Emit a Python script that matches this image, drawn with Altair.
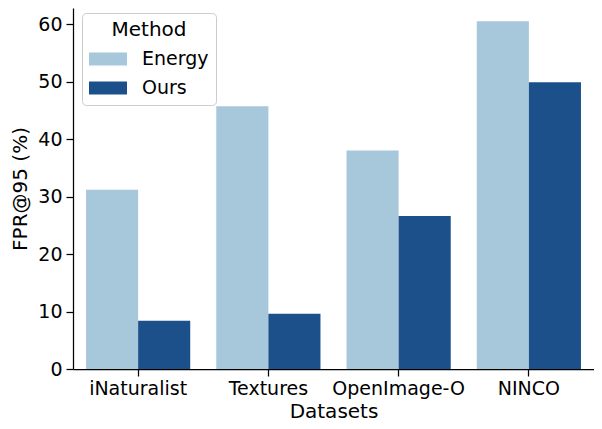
import altair as alt
import pandas as pd

datasets = ["iNaturalist", "Textures", "OpenImage-O", "NINCO"]
methods = ["Energy", "Ours"]
energy = [31.2, 45.7, 38.0, 60.5]
ours = [8.4, 9.6, 26.6, 49.9]
colors = ["#a7c7db", "#1c508a"]
y_ticks = [0, 10, 20, 30, 40, 50, 60]

rows = []
for d, e, o in zip(datasets, energy, ours):
    rows.append({"Datasets": d, "Method": "Energy", "value": e})
    rows.append({"Datasets": d, "Method": "Ours", "value": o})
df = pd.DataFrame(rows)

FONT = "DejaVu Sans"
RECT = "M-1,-0.34H1V0.34H-1Z"

chart = alt.Chart(df).mark_bar().encode(
    x=alt.X(
        "Datasets:N",
        sort=datasets,
        scale=alt.Scale(paddingInner=0.2, paddingOuter=0.1),
        axis=alt.Axis(
            title="Datasets", labelAngle=0, labelFontSize=19, titleFontSize=20,
            labelPadding=3, titlePadding=3, tickSize=7,
        ),
    ),
    xOffset=alt.XOffset("Method:N", sort=methods,
                        scale=alt.Scale(paddingInner=0, paddingOuter=0)),
    y=alt.Y(
        "value:Q",
        scale=alt.Scale(domain=[0, 62.8], nice=False, zero=True),
        axis=alt.Axis(
            title="FPR@95 (%)", values=y_ticks, labelFontSize=19, titleFontSize=20,
            labelPadding=4, titlePadding=7, tickSize=7, grid=False,
        ),
    ),
    color=alt.Color(
        "Method:N",
        sort=methods,
        scale=alt.Scale(domain=methods, range=colors),
        legend=alt.Legend(
            title="Method", orient="none", legendX=9, legendY=5,
            titleFontSize=20, titleFontWeight="normal", titleAnchor="middle",
            titlePadding=0,
            labelFontSize=19, labelOffset=15,
            symbolType=RECT, symbolSize=1444, symbolStrokeWidth=0,
            symbolOpacity=1,
            strokeColor="#cccccc", fillColor="rgba(255,255,255,0.8)",
            cornerRadius=4, padding=7, rowPadding=-10,
        ),
    ),
).properties(
    width=521,
    height=361,
    autosize=alt.AutoSizeParams(type="none"),
    padding={"left": 65, "top": 0, "right": 0, "bottom": 52},
).configure_view(
    stroke=None
).configure_axis(
    labelFont=FONT, titleFont=FONT, labelColor="black", titleColor="black",
    domainColor="black", tickColor="black", domainWidth=1.25, tickWidth=1.25,
    titleFontWeight="normal", grid=False,
).configure_legend(
    labelFont=FONT, titleFont=FONT, labelColor="black", titleColor="black",
)

chart.save("out.html", embed_options={"renderer": "svg", "actions": False})
